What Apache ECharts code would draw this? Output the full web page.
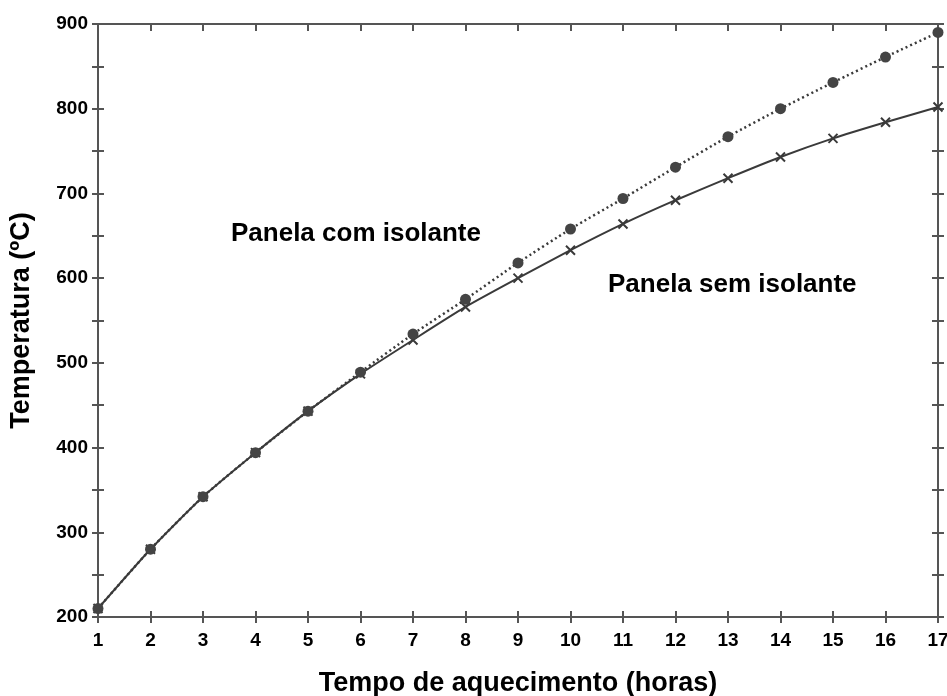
<!DOCTYPE html>
<html><head><meta charset="utf-8">
<script src="https://cdn.jsdelivr.net/npm/echarts@6/dist/echarts.min.js"></script>
<style>html,body{margin:0;padding:0;background:#fff}#c{width:947px;height:696px}</style>
</head><body><div id="c"></div>
<script>
var hours = [1,2,3,4,5,6,7,8,9,10,11,12,13,14,15,16,17];
var comIsolante = [210,280,342,394,443,489,534,575,618,658,694,731,767,800,831,861,890];
var semIsolante = [210,280,342,394,443,487,527,566,600,633,664,692,718,743,765,784,802];
var yTicks = [200,300,400,500,600,700,800,900];

var chart = echarts.init(document.getElementById('c'));
var axisCol = '#555';
var font = 'Liberation Sans, Arial, sans-serif';
function pairs(v){ return hours.map(function(h,i){return [h,v[i]];}); }
var lineStyleAxis = {show:true, lineStyle:{color:axisCol, width:2}};
chart.setOption({
  animation:false,
  grid:{left:98, right:9, top:24, bottom:79, outerBoundsMode:'none', containLabel:false},
  xAxis:[
    {type:'value', min:1, max:17, interval:1, position:'bottom',
     axisLine:lineStyleAxis, splitLine:{show:false},
     axisTick:{show:true, inside:false, length:6, lineStyle:{color:axisCol, width:2}},
     axisLabel:{color:'#000', fontWeight:'bold', fontSize:19, fontFamily:font, margin:14},
     name:'Tempo de aquecimento (horas)', nameLocation:'middle', nameGap:53,
     nameTextStyle:{color:'#000', fontWeight:'bold', fontSize:27, fontFamily:font}},
    {type:'value', min:1, max:17, interval:1, position:'bottom', axisLine:{show:false}, splitLine:{show:false},
     axisTick:{show:true, inside:true, length:6, lineStyle:{color:axisCol, width:2}}, axisLabel:{show:false}},
    {type:'value', min:1, max:17, interval:1, position:'top', axisLine:lineStyleAxis, splitLine:{show:false},
     axisTick:{show:true, inside:true, length:7, lineStyle:{color:axisCol, width:2}}, axisLabel:{show:false}}
  ],
  yAxis:[
    {type:'value', min:200, max:900, interval:50, position:'left',
     axisLine:lineStyleAxis, splitLine:{show:false},
     axisTick:{show:true, inside:false, length:6, lineStyle:{color:axisCol, width:2}},
     axisLabel:{color:'#000', fontWeight:'bold', fontSize:19, fontFamily:font, margin:10,
       formatter:function(v){return yTicks.indexOf(v)>=0 ? String(v) : '';}},
     name:'Temperatura (ºC)', nameLocation:'middle', nameGap:63, nameRotate:90,
     nameTextStyle:{color:'#000', fontWeight:'bold', fontSize:27, fontFamily:font}},
    {type:'value', min:200, max:900, interval:50, position:'left', axisLine:{show:false}, splitLine:{show:false},
     axisTick:{show:true, inside:true, length:6, lineStyle:{color:axisCol, width:2}}, axisLabel:{show:false}},
    {type:'value', min:200, max:900, interval:50, position:'right', axisLine:lineStyleAxis, splitLine:{show:false},
     axisTick:{show:true, inside:true, length:6, lineStyle:{color:axisCol, width:2}}, axisLabel:{show:false}},
    {type:'value', min:200, max:900, interval:50, position:'right', axisLine:{show:false}, splitLine:{show:false},
     axisTick:{show:true, inside:false, length:6, lineStyle:{color:axisCol, width:2}}, axisLabel:{show:false}}
  ],
  series:[
    {type:'line', name:'Panela sem isolante', data:pairs(semIsolante), smooth:0.2,
     lineStyle:{color:'#3a3a3a', width:2}, symbol:'path://M-1,-1 L1,1 M1,-1 L-1,1', symbolSize:9,
     itemStyle:{color:'none', borderColor:'#3a3a3a', borderWidth:2}, z:2},
    {type:'line', name:'Panela com isolante', data:pairs(comIsolante), smooth:0.2,
     lineStyle:{color:'#3a3a3a', width:2.5, type:[2,3]}, symbol:'circle', symbolSize:11,
     itemStyle:{color:'#444', borderWidth:0}, z:3}
  ],
  graphic:[
    {type:'text', left:231, top:221, style:{text:'Panela com isolante', fill:'#000', font:'bold 26px '+font}},
    {type:'text', left:608, top:272, style:{text:'Panela sem isolante', fill:'#000', font:'bold 26px '+font}}
  ]
});
</script></body></html>
